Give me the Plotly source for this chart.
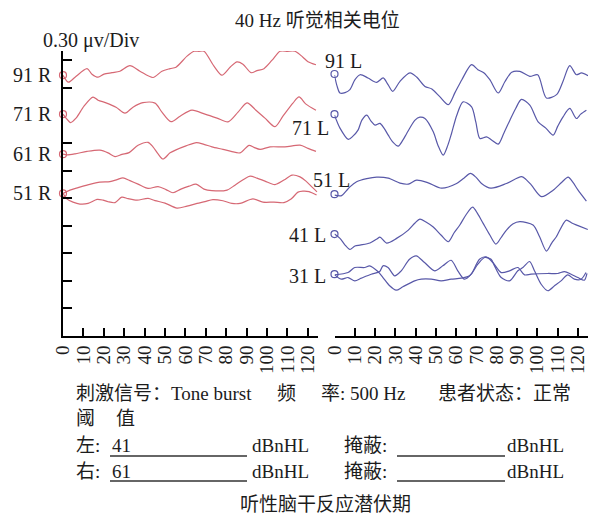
import plotly.graph_objects as go

# ---- waveform data: (time in ms, amplitude in µV relative to the trace baseline) ----
R91 = [(0, 0), (2.7, -0.076), (5.9, -0.022), (11.8, 0.071), (14.2, 0.011), (17.2, -0.022),
       (20.1, 0.011), (24, 0.027), (27.9, 0.043), (32.8, 0.103), (37.7, 0.043), (44.1, -0.025),
       (48.5, 0.043), (52.5, 0.071), (55.4, 0.087), (60.8, 0.207), (64.2, 0.26), (66.6, 0.26),
       (69.1, 0.26), (74, 0.098), (77.9, 0), (81.9, 0.087), (85.3, 0.145), (88.2, 0.12),
       (92.2, 0.027), (95.1, 0.049), (98.5, 0.071), (102.5, 0.163), (106.4, 0.26), (110, 0.26),
       (113.7, 0.26), (117.6, 0.196), (120.1, 0.147), (124, 0.114)]
R71 = [(0, 0), (1.5, -0.043), (3.7, -0.092), (6.4, -0.043), (10.3, 0.087), (14.7, 0.185),
       (17.2, 0.152), (21.1, 0.123), (26, 0.076), (30.4, 0.011), (34.3, 0.076), (39.2, 0.125),
       (45.1, 0.12), (48.5, 0.022), (52.9, -0.082), (57.4, -0.022), (63.2, 0.043), (69.6, 0),
       (75.5, -0.043), (80.9, -0.084), (85.8, 0.022), (90.2, 0.123), (94.6, 0.043), (99, -0.043),
       (103.9, -0.136), (107.8, -0.022), (112.7, 0.12), (115.7, 0.188), (119.1, 0.109), (124, 0.043)]
R61 = [(0, 0), (2, -0.008), (5.9, 0.003), (11.8, 0.03), (18.1, 0.043), (22.1, 0.014),
       (25.5, -0.026), (28.9, -0.002), (32.4, 0.017), (36.8, 0.096), (41.7, 0.128), (44.1, 0.079),
       (46.6, 0.003), (49, -0.053), (52.5, 0.014), (55.4, 0.047), (60.3, 0.09), (65.4, 0.126),
       (69.1, 0.107), (73, 0.079), (78.4, 0.052), (82.4, 0.03), (86.8, 0.014), (91.2, 0.096),
       (93.6, 0.074), (96.6, 0.052), (101.5, 0.079), (108.8, 0.079), (116.2, 0.098),
       (120.1, 0.063), (124, 0.03)]
R51A = [(0, 0), (3.4, 0.036), (7.4, 0.063), (11.8, 0.09), (18.1, 0.123), (23, 0.128),
        (26.5, 0.15), (29.4, 0.17), (32.8, 0.139), (36.8, 0.101), (41.7, 0.054), (46.6, 0.074),
        (50.5, 0.041), (53.9, 0.007), (57.8, 0.047), (61.8, 0.079), (65.2, 0.101), (69.1, 0.047),
        (73, 0.03), (80.4, 0.036), (84.3, 0.09), (88.7, 0.155), (91.7, 0.188), (95.1, 0.166),
        (99, 0.134), (103.9, 0.096), (108.3, 0.145), (112.3, 0.199), (116.2, 0.18),
        (119.1, 0.134), (122.1, 0.068), (124.5, 0.017)]
R51B = [(0, 0), (2, -0.062), (4.9, -0.095), (8.3, -0.116), (12.3, -0.109), (16.7, -0.065),
        (19.6, -0.073), (22.1, -0.091), (25.5, -0.1), (28.8, -0.04), (31.9, -0.057),
        (36.3, -0.073), (41.7, -0.054), (45.1, -0.078), (50, -0.105), (55.9, -0.16),
        (60.8, -0.138), (65.7, -0.109), (69.6, -0.089), (73.5, -0.067), (78.4, -0.08),
        (82.8, -0.109), (86.8, -0.109), (93.1, -0.06), (98, -0.095), (103.4, -0.095),
        (108.3, -0.1), (111.8, -0.062), (115.2, 0.014), (117.6, 0.025), (120.6, 0.02),
        (124.3, -0.018)]

L91 = [(0, -0.011), (1.2, -0.127), (2.7, -0.207), (5.2, -0.203), (7.6, -0.171), (10.1, -0.062),
       (12.6, -0.008), (16.5, -0.043), (20.8, -0.091), (24, -0.043), (26.4, -0.116),
       (28.7, -0.189), (32.3, -0.08), (37.2, 0.011), (40.5, -0.033), (44.6, -0.135), (48, -0.163),
       (51.9, -0.247), (56.1, -0.334), (59.4, -0.203), (62.8, -0.062), (67.6, 0.101),
       (70.7, 0.047), (73.6, 0.014), (76.6, -0.062), (80.7, -0.207), (84, -0.084), (87.4, 0.02),
       (91.4, 0.028), (96.3, -0.026), (100.2, -0.008), (104.5, -0.261), (109.5, -0.225),
       (112.6, -0.084), (116, 0.09), (119.3, -0.008), (121.8, 0.011), (125, -0.018)]
L71 = [(0, -0.011), (2.7, -0.152), (6.8, -0.275), (9.1, -0.239), (11.6, -0.174), (13.5, -0.065),
       (15.9, -0.011), (18, -0.076), (20, -0.12), (22.4, -0.101), (24.4, -0.152), (26.5, -0.228),
       (28.8, -0.304), (31.4, -0.348), (33.7, -0.283), (35.6, -0.21), (39.7, -0.065),
       (42.1, -0.033), (44.6, -0.047), (48.7, -0.192), (51, -0.337), (53.6, -0.446),
       (55.9, -0.337), (57.7, -0.21), (60.3, -0.011), (63.4, 0.134), (67.6, 0.079),
       (69.7, -0.087), (71.7, -0.264), (75, -0.247), (77.6, -0.283), (80.7, -0.326),
       (83.5, -0.207), (86.5, -0.065), (89.4, 0.065), (92.2, 0.16), (96.3, 0.098),
       (100.4, -0.084), (104.2, -0.152), (107.8, -0.228), (110.1, -0.13), (112.7, -0.029),
       (116, 0.062), (119.3, -0.047), (121.4, 0), (124.2, 0.043)]
L51 = [(0, -0.011), (3.5, -0.016), (5.7, 0.033), (7.6, 0.079), (10.9, 0.134), (15.9, 0.168),
       (20.8, 0.185), (26.5, 0.174), (32.3, 0.12), (36.4, 0.109), (40.5, 0.152), (46.2, 0.123),
       (52.8, 0.065), (60.2, 0.116), (63.8, 0.174), (67, 0.225), (69.7, 0.185), (72.5, 0.116),
       (77.1, 0.065), (84.8, 0.116), (92.2, 0.19), (94.3, 0.163), (97.1, 0.098), (102.1, -0.027),
       (107.8, 0.043), (112.1, 0.13), (115.2, 0.185), (117.5, 0.13), (120.1, 0.043),
       (124.2, -0.076)]
L41 = [(0, 0), (2.7, -0.047), (5.2, -0.12), (7.6, -0.168), (10.1, -0.13), (12.6, -0.12),
       (17.5, -0.098), (20.9, -0.054), (22.4, -0.033), (25.7, -0.098), (30.6, -0.047),
       (36.4, 0.043), (39.7, 0.12), (42.1, 0.163), (45.1, 0.13), (48.7, 0.076), (52.5, -0.011),
       (56.1, -0.084), (58.9, 0.011), (61.8, 0.098), (64.8, 0.207), (68.1, 0.293), (70.7, 0.217),
       (73.3, 0.116), (76.6, -0.011), (79.6, -0.109), (82, -0.043), (84.8, 0.043), (87.9, 0.109),
       (91.4, 0.134), (97.9, 0.098), (101.2, -0.033), (104.5, -0.185), (107.1, -0.098),
       (109.4, -0.029), (114.3, 0.152), (117, 0.12), (120.1, 0.092), (124.9, 0.049)]
L31A = [(0.1, -0.007), (6.7, 0.018), (10, 0.073), (14.9, 0.073), (17.3, 0.091), (21.4, 0.029),
        (23.9, -0.036), (27.2, -0.126), (30.4, -0.174), (33.7, -0.137), (39.5, -0.072),
        (42.8, -0.054), (47.7, -0.054), (52.6, -0.072), (57.5, -0.054), (62.5, -0.043),
        (66.6, -0.017), (70.7, 0.109), (74, 0.182), (77.2, 0.163), (78.9, 0.091), (82.2, -0.036),
        (86.3, -0.072), (90.4, 0.037), (92.9, 0.073), (96.2, 0.138), (98.6, 0.037),
        (101.9, -0.109), (105.2, -0.18), (108.5, -0.126), (111.7, -0.072), (115, -0.007),
        (118.3, -0.054), (121.6, -0.054), (124, 0.018)]
L31B = [(0.1, -0.007), (3.3, -0.054), (6.7, -0.036), (10, -0.072), (13.2, -0.043), (18.1, 0),
        (22.3, 0.029), (23.9, 0.091), (26.4, 0.073), (29.7, -0.017), (32.9, 0.037), (37, 0.163),
        (40.3, 0.2), (44.4, 0.127), (49.4, 0.037), (53.4, 0.091), (57.5, 0.152), (60.8, 0.037),
        (64.1, -0.054), (67.4, 0), (71.5, 0.163), (74.8, 0.189), (78.1, 0.127), (82.2, 0.018),
        (86.3, 0.037), (90.4, 0.073), (93.7, -0.007), (96.9, 0), (105.2, 0.008), (110.1, 0.008),
        (113.4, 0.029), (116.7, 0), (120, -0.036), (123.2, -0.065), (124.5, 0.008)]

# stimulus levels (dBnHL) and the baseline of each trace (µV on the common vertical scale)
RIGHT_LEVELS = ["91 R", "71 R", "61 R", "51 R"]
RIGHT_BASE = [2.837, 2.413, 1.978, 1.551]
RIGHT_WAVES = [[R91], [R71], [R61], [R51A, R51B]]

LEFT_LEVELS = ["91 L", "71 L", "51 L", "41 L", "31 L"]
LEFT_BASE = [2.85, 2.413, 1.543, 1.109, 0.672]
LEFT_WAVES = [[L91], [L71], [L51], [L41], [L31A, L31B]]

TIME_TICKS = list(range(0, 130, 10))
DIV_UV = 0.30
Y_TICKS = [round(DIV_UV * k, 2) for k in range(1, 11) if k != 8]

RED = "rgb(214,104,116)"
BLUE = "rgb(88,88,168)"
INK = "#1c1c1c"
SERIF = "Liberation Serif, Noto Sans CJK SC, serif"

# page geometry (pixels) used to place the surrounding text
W, H = 595, 518
ML, MR, MT, MB = 63, 7, 51, 182
PW, PH = W - ML - MR, H - MT - MB


def px(x):
    return (x - ML) / PW


def py(y):
    return (H - MB - y) / PH


fig = go.Figure()


def add_group(waves_list, bases, color, xaxis):
    for waves, base in zip(waves_list, bases):
        for w in waves:
            fig.add_trace(go.Scatter(
                x=[p[0] for p in w], y=[base + p[1] for p in w],
                mode="lines", xaxis=xaxis, yaxis="y",
                line=dict(color=color, width=1.2, shape="spline", smoothing=0.8),
                hoverinfo="skip"))
        # small open circle marking the start of each recording
        fig.add_trace(go.Scatter(
            x=[0], y=[base], mode="markers", xaxis=xaxis, yaxis="y", cliponaxis=False,
            marker=dict(symbol="circle-open", size=7, color=color,
                        line=dict(width=1.2, color=color)),
            hoverinfo="skip"))


add_group(RIGHT_WAVES, RIGHT_BASE, RED, "x")
add_group(LEFT_WAVES, LEFT_BASE, BLUE, "x2")

axis_common = dict(
    range=[0, 125], tickvals=TIME_TICKS, ticktext=[str(v) for v in TIME_TICKS],
    tickangle=-90, ticks="inside", ticklen=8, tickwidth=1.6, tickcolor="black",
    showline=True, linecolor="black", linewidth=2, showgrid=False, zeroline=False,
    tickfont=dict(family=SERIF, size=19, color=INK), anchor="y")

fig.update_layout(
    width=W, height=H, margin=dict(l=ML, r=MR, t=MT, b=MB),
    paper_bgcolor="white", plot_bgcolor="white", showlegend=False,
    xaxis=dict(domain=[0, px(318)], **axis_common),
    xaxis2=dict(domain=[px(334.5), 1], **axis_common),
    yaxis=dict(range=[0, 3.1], tickvals=Y_TICKS, ticks="inside", ticklen=9, tickwidth=2,
               tickcolor="black", showticklabels=False, showline=True, linecolor="black",
               linewidth=2, showgrid=False, zeroline=False),
)

ann = []


def text(s, x, y, anchor="left", size=19, **kw):
    ann.append(dict(text=s, x=x, y=y, xref=kw.pop("xref", "paper"), yref=kw.pop("yref", "paper"),
                    xanchor=anchor, yanchor="middle", showarrow=False,
                    font=dict(family=SERIF, size=size, color=INK), **kw))


# title and scale
text("40 Hz 听觉相关电位", px(233), py(20))
text("0.30 μv/Div", px(41), py(40), size=20)

# level labels
for lab, base in zip(RIGHT_LEVELS, RIGHT_BASE):
    text(lab, px(54), base, anchor="right", yref="y", size=20)

left_label_pos = {  # anchor, x shift, y shift in pixels
    "91 L": ("left", -12, 13),
    "71 L": ("right", -4, -14),
    "51 L": ("center", -3, 14),
    "41 L": ("right", -7, -1),
    "31 L": ("right", -7, -2),
}
for lab, base in zip(LEFT_LEVELS, LEFT_BASE):
    a, dx, dy = left_label_pos[lab]
    text(lab, 0, base, anchor=a, xref="x2", yref="y", xshift=dx, yshift=dy, size=20)

# stimulus information block
text("刺激信号：Tone burst", px(74), py(393))
text("频", px(275), py(393))
text("率: 500 Hz", px(319), py(393))
text("患者状态：正常", px(436), py(393))
text("阈", px(74), py(418))
text("值", px(114), py(418))

THRESHOLDS = {"左": "41", "右": "61"}
for (side, val), y in zip(THRESHOLDS.items(), [446, 471]):
    text(side + ":", px(74), py(y))
    text(val, px(110), py(y))
    text("dBnHL", px(250), py(y))
    text("掩蔽:", px(342), py(y))
    text("dBnHL", px(505), py(y))

text("听性脑干反应潜伏期", px(325), py(504), anchor="center")

shapes = []
for y in [456, 481]:
    for x0, x1 in [(110, 247), (397, 505)]:
        shapes.append(dict(type="line", xref="paper", yref="paper",
                           x0=px(x0), x1=px(x1), y0=py(y), y1=py(y),
                           line=dict(color="#333", width=1.3)))

fig.update_layout(annotations=ann, shapes=shapes)
fig.write_html("out.html")
